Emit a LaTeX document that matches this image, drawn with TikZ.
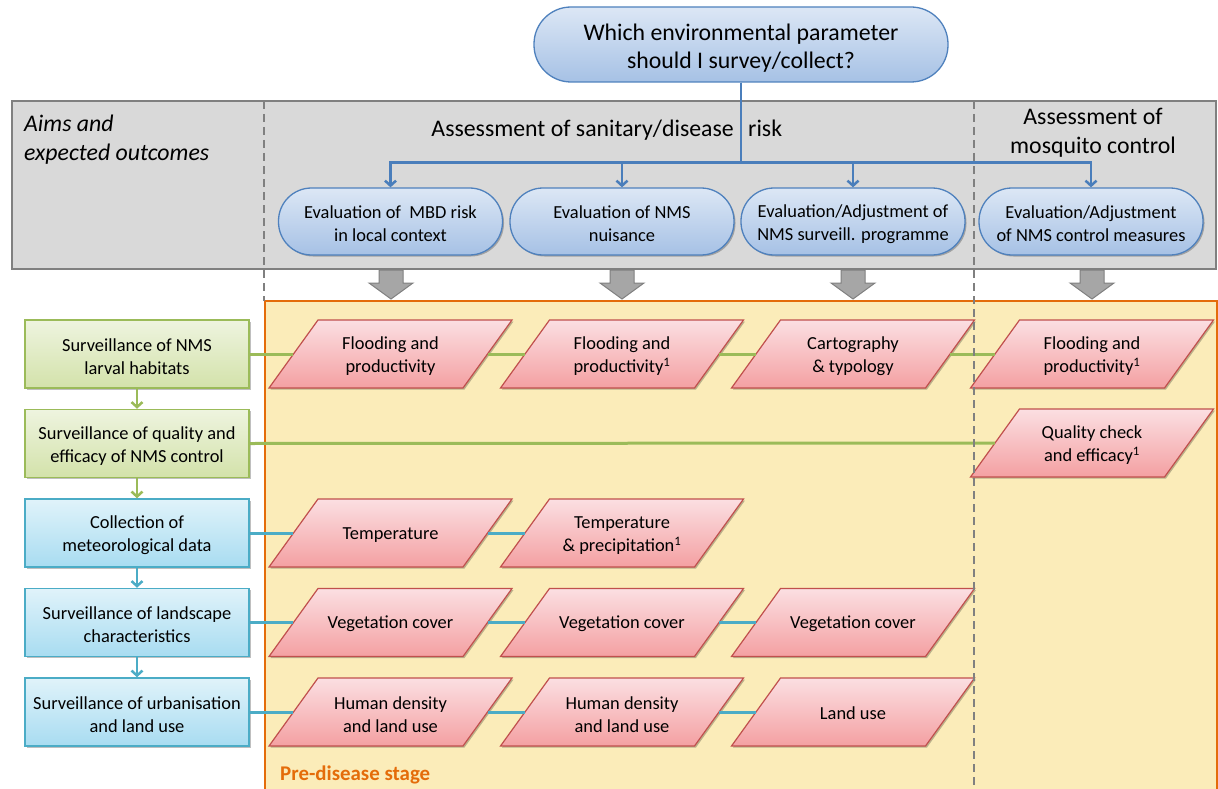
\documentclass[tikz,border=0pt]{standalone}
\usepackage{fontspec}
\setmainfont{Carlito}
\usetikzlibrary{shadows,arrows.meta}

\definecolor{bandfill}{HTML}{D9D9D9}
\definecolor{bandline}{HTML}{808080}
\definecolor{stagefill}{HTML}{FBECB9}
\definecolor{stageline}{HTML}{E46C0A}
\definecolor{qtop}{HTML}{DCE7F5}
\definecolor{qbot}{HTML}{A6C1E5}
\definecolor{qline}{HTML}{4F81BD}
\definecolor{ptop}{HTML}{FBDFE2}
\definecolor{pbot}{HTML}{F4A0A2}
\definecolor{pline}{HTML}{C0504D}
\definecolor{gtop}{HTML}{EEF4DF}
\definecolor{gbot}{HTML}{D3E2AA}
\definecolor{gline}{HTML}{9BBB59}
\definecolor{ctop}{HTML}{E0F3FA}
\definecolor{cbot}{HTML}{A8DCF1}
\definecolor{cline}{HTML}{4BACC6}
\definecolor{treeblue}{HTML}{4A7EBB}
\definecolor{arrowgray}{HTML}{A6A6A6}

% invisible strut that gives the first line of a label a little more room above
\newcommand\lead{\rule{0pt}{0.97em}}

\tikzset{
  txt/.style={font=\fontsize{18.4}{23}\selectfont, align=center, inner sep=0pt,
    execute at begin node={\rule{0pt}{0.87em}}},
  softshadow/.style={drop shadow={shadow xshift=1.5pt, shadow yshift=-1.5pt, opacity=0.25, fill=black}},
  query/.style={txt, font=\fontsize{23.8}{28}\selectfont, draw=qline, line width=1.3pt,
    top color=qtop, bottom color=qbot, rounded corners=37pt,
    minimum width=414pt, minimum height=75pt},
  outcome/.style={txt, draw=qline, line width=1.3pt, top color=qtop, bottom color=qbot,
    rounded corners=33pt, minimum width=224pt, minimum height=67pt, softshadow},
  survgreen/.style={txt, draw=gline, line width=1.5pt, top color=gtop, bottom color=gbot,
    minimum width=224pt, minimum height=68pt, softshadow},
  survblue/.style={txt, draw=cline, line width=1.5pt, top color=ctop, bottom color=cbot,
    minimum width=224pt, minimum height=68pt, softshadow},
  % parallelogram outline and its (invisible) text body
  paramshape/.style={draw=pline, line width=1.2pt, top color=ptop, bottom color=pbot, softshadow},
  paramtext/.style={txt, minimum width=194pt, minimum height=68pt},
  heading/.style={font=\fontsize{23.8}{29}\selectfont, align=center, inner sep=0pt},
  stagelabel/.style={font=\fontsize{20.9}{24}\selectfont\bfseries, text=stageline, inner sep=0pt},
  tree/.style={draw=treeblue, line width=2.5pt, -{Straight Barb[length=5pt,width=11pt]}},
  gconn/.style={draw=gline, line width=3pt},
  cconn/.style={draw=cline, line width=3pt},
  garrow/.style={draw=gline, line width=2.5pt, -{Straight Barb[length=5pt,width=11pt]}},
  carrow/.style={draw=cline, line width=2.5pt, -{Straight Barb[length=5pt,width=11pt]}},
  divider/.style={draw=bandline, line width=2pt, dash pattern=on 8pt off 5pt},
  blockdown/.pic={
    \filldraw[fill=arrowgray, draw=bandline, line width=1pt]
      (-12,0) -- (-12,13) -- (-22,13) -- (0,29) -- (22,13) -- (12,13) -- (12,0) -- cycle;
  }
}

% parallelogram parameter box: name, x, y, text
\newcommand\paramnode[4]{%
  \shade[paramshape] ({#2-121.5},{#3+34}) -- ({#2-72.5},{#3-34}) -- ({#2+121.5},{#3-34})
    -- ({#2+72.5},{#3+34}) -- cycle;
  \node[paramtext] (#1) at (#2,#3) {#4};
}

\begin{document}
\begin{tikzpicture}[x=1pt,y=-1pt]
\useasboundingbox (0,0) rectangle (1218,789);

% grey band of aims and outcomes
\filldraw[fill=bandfill, draw=bandline, line width=2pt] (12,101) rectangle (1216,269);
% pre-disease stage panel
\filldraw[fill=stagefill, draw=stageline, line width=2pt] (265,301) rectangle (1217,800);

% block arrows from outcomes to parameters
\pic at (391,270) {blockdown};
\pic at (622,270) {blockdown};
\pic at (853,270) {blockdown};
\pic at (1092,270) {blockdown};

% question and outcomes
\node[query] (q) at (741,44.5) {\lead Which environmental parameter\\should I survey/collect?};
\node[outcome] (o1) at (390.5,221.5) {\lead Evaluation of~~MBD risk\\in local context};
\node[outcome] (o2) at (622,221.5) {\lead Evaluation of NMS\\nuisance};
\node[outcome] (o3) at (853,221.5) {\lead Evaluation/Adjustment of\\NMS surveill. programme};
\node[outcome] (o4) at (1091,221.5) {\lead Evaluation/Adjustment\\of NMS control measures};

\draw[tree] (q.south) -- ++(0,80) -| (o1.north);
\draw[tree] (q.south) -- ++(0,80) -| (o2.north);
\draw[tree] (q.south) -- ++(0,80) -| (o3.north);
\draw[tree] (q.south) -- ++(0,80) -| (o4.north);

% headings
\node[heading, anchor=base east] (hsan) at (734,137) {Assessment of sanitary/disease};
\node[heading, anchor=base west] (hrisk) at (748,137) {risk};
\node[heading] (hmos) at (1093,133) {Assessment of\\mosquito control};
\node[heading, anchor=west, align=left, font=\fontsize{23.8}{29}\selectfont\itshape] (haims) at (24,140) {Aims and\\expected outcomes};

% surveillance activities
\node[survgreen] (s1) at (137,354) {\lead Surveillance of NMS\\larval habitats};
\node[survgreen] (s2) at (137,443.5) {\lead Surveillance of quality and\\efficacy of NMS control};
\node[survblue] (s3) at (137,533) {\lead Collection of\\meteorological data};
\node[survblue] (s4) at (137,622.5) {\lead Surveillance of landscape\\characteristics};
\node[survblue] (s5) at (137,712) {\lead Surveillance of urbanisation\\and land use};

\draw[garrow] (s1) -- (s2);
\draw[garrow] (s2) -- (s3);
\draw[carrow] (s3) -- (s4);
\draw[carrow] (s4) -- (s5);

% environmental parameters
\paramnode{p11}{390.5}{354}{\lead Flooding and\\productivity}
\paramnode{p12}{622}{354}{\lead Flooding and\\productivity\textsuperscript{1}}
\paramnode{p13}{853}{354}{\lead Cartography\\\& typology}
\paramnode{p14}{1092}{354}{\lead Flooding and\\productivity\textsuperscript{1}}
\paramnode{p24}{1092}{443}{\lead Quality check\\and efficacy\textsuperscript{1}}
\paramnode{p31}{390.5}{533}{Temperature}
\paramnode{p32}{622}{533}{\lead Temperature\\\& precipitation\textsuperscript{1}}
\paramnode{p41}{390.5}{622.5}{Vegetation cover}
\paramnode{p42}{622}{622.5}{Vegetation cover}
\paramnode{p43}{853}{622.5}{Vegetation cover}
\paramnode{p51}{390.5}{712}{\lead Human density\\and land use}
\paramnode{p52}{622}{712}{\lead Human density\\and land use}
\paramnode{p53}{853}{712}{Land use}

\draw[gconn] (s1.east) -- (p11.west);
\draw[gconn] (p11.east) -- (p12.west);
\draw[gconn] (p12.east) -- (p13.west);
\draw[gconn] (p13.east) -- (p14.west);
\draw[gconn] (s2.east) -- (p24.west);
\draw[cconn] (s3.east) -- (p31.west);
\draw[cconn] (p31.east) -- (p32.west);
\draw[cconn] (s4.east) -- (p41.west);
\draw[cconn] (p41.east) -- (p42.west);
\draw[cconn] (p42.east) -- (p43.west);
\draw[cconn] (s5.east) -- (p51.west);
\draw[cconn] (p51.east) -- (p52.west);
\draw[cconn] (p52.east) -- (p53.west);

\node[stagelabel, anchor=base west] (stage) at (280,780) {Pre-disease stage};

% column dividers
\draw[divider] (264,101) -- (264,301);
\draw[divider] (974,101) -- (974,789);
\end{tikzpicture}
\end{document}
